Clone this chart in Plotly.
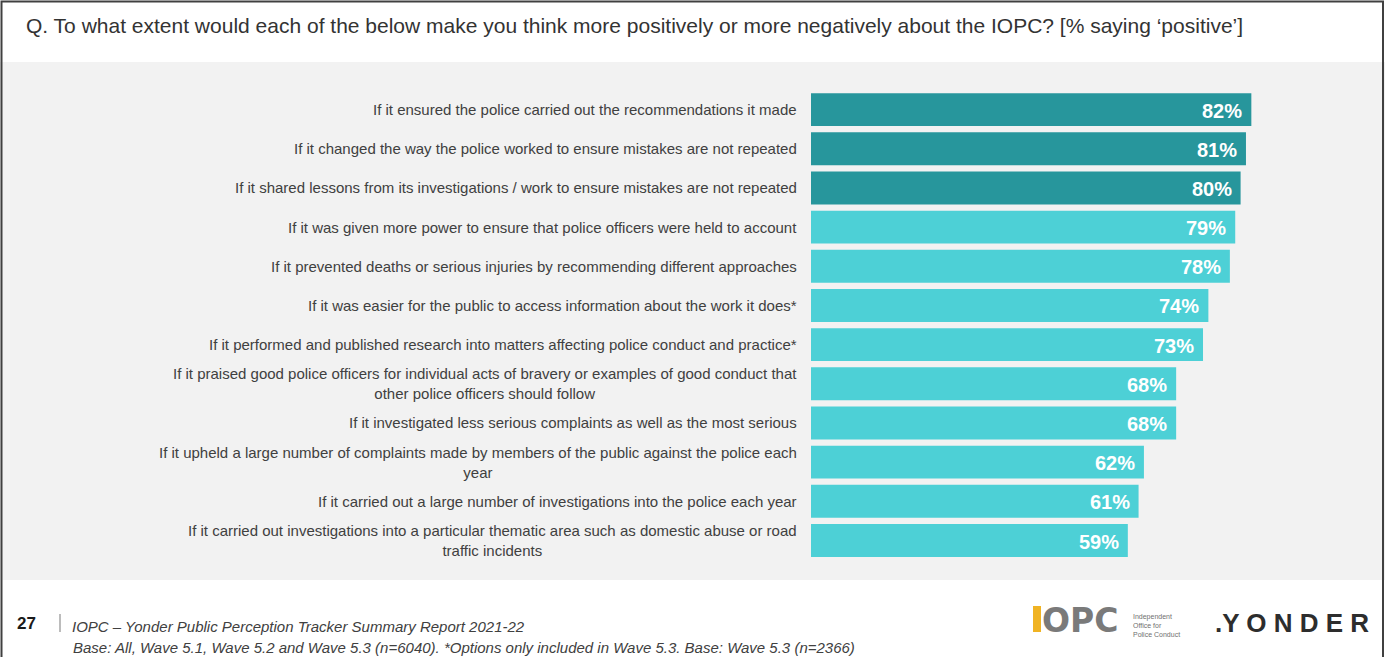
import plotly.graph_objects as go

categories = [
    "If it ensured the police carried out the recommendations it made",
    "If it changed the way the police worked to ensure mistakes are not repeated",
    "If it shared lessons from its investigations / work to ensure mistakes are not repeated",
    "If it was given more power to ensure that police officers were held to account",
    "If it prevented deaths or serious injuries by recommending different approaches",
    "If it was easier for the public to access information about the work it does*",
    "If it performed and published research into matters affecting police conduct and practice*",
    "If it praised good police officers for individual acts of bravery or examples of good conduct that<br>other police officers should follow",
    "If it investigated less serious complaints as well as the most serious",
    "If it upheld a large number of complaints made by members of the public against the police each<br>year",
    "If it carried out a large number of investigations into the police each year",
    "If it carried out investigations into a particular thematic area such as domestic abuse or road<br>traffic incidents",
]
values = [82, 81, 80, 79, 78, 74, 73, 68, 68, 62, 61, 59]
highlight = [True, True, True, False, False, False, False, False, False, False, False, False]

DARK = "#27969C"
LIGHT = "#4DD0D6"
FONT = "Liberation Sans, Arial, sans-serif"

W, H = 1385, 657
L, R, T, B = 811, 37, 90, 96
PW, PH = W - L - R, H - T - B


def px(x):
    return (x - L) / PW


def py(y):
    return (H - B - y) / PH


colors = [DARK if h else LIGHT for h in highlight]

fig = go.Figure()
fig.add_trace(go.Bar(
    x=values, y=categories, orientation="h",
    marker=dict(color=colors, line=dict(width=0)),
    hoverinfo="skip",
))

ann = []
for c, v in zip(categories, values):
    ann.append(dict(x=0, y=c, xref="x", yref="y", text=c, showarrow=False,
                    xanchor="right", yanchor="middle", align="center", xshift=-12,
                    font=dict(family=FONT, size=15, color="#404040")))
    ann.append(dict(x=v, y=c, xref="x", yref="y", text=f"{v}%", showarrow=False,
                    xanchor="right", yanchor="middle", xshift=-7, yshift=-1,
                    font=dict(family=FONT, size=20, color="white", weight="bold")))

# title
ann.append(dict(x=px(24), y=py(25), xref="paper", yref="paper", showarrow=False,
                xanchor="left", yanchor="middle",
                text="Q. To what extent would each of the below make you think more positively or more negatively about the IOPC? [% saying \u2018positive\u2019]",
                font=dict(family=FONT, size=21, color="#333333")))
# footer
ann.append(dict(x=px(15), y=py(623), xref="paper", yref="paper", showarrow=False,
                xanchor="left", yanchor="middle", text="27",
                font=dict(family=FONT, size=17, color="#1a1a1a", weight="bold")))
ann.append(dict(x=px(70), y=py(626), xref="paper", yref="paper", showarrow=False,
                xanchor="left", yanchor="middle",
                text="<i>IOPC \u2013 Yonder Public Perception Tracker Summary Report 2021-22</i>",
                font=dict(family=FONT, size=15, color="#404040")))
ann.append(dict(x=px(71), y=py(647), xref="paper", yref="paper", showarrow=False,
                xanchor="left", yanchor="middle",
                text="<i>Base: All, Wave 5.1, Wave 5.2 and Wave 5.3 (n=6040). *Options only included in Wave 5.3. Base: Wave 5.3 (n=2366)</i>",
                font=dict(family=FONT, size=15, color="#404040")))
# IOPC logo
ann.append(dict(x=px(1040), y=py(620), xref="paper", yref="paper", showarrow=False,
                xanchor="left", yanchor="middle", text="OPC",
                font=dict(family="DejaVu Sans, sans-serif", size=33, color="#7a7a7a", weight="bold")))
ann.append(dict(x=px(1131), y=py(625), xref="paper", yref="paper", showarrow=False,
                xanchor="left", yanchor="middle", align="left",
                text="Independent<br>Office for<br>Police Conduct",
                font=dict(family=FONT, size=7, color="#707070")))
ann.append(dict(x=px(1213), y=py(623), xref="paper", yref="paper", showarrow=False,
                xanchor="left", yanchor="middle", text=".Y O N D E R",
                font=dict(family=FONT, size=26, color="#2d2d2d", weight="bold")))

shapes = [
    dict(type="rect", xref="paper", yref="paper", x0=px(-5), x1=px(W + 5), y0=py(580), y1=py(62),
         fillcolor="#F2F2F2", line=dict(width=0), layer="below"),
    dict(type="rect", xref="paper", yref="paper", x0=px(1033), x1=px(1041), y0=py(632), y1=py(606),
         fillcolor="#F0B323", line=dict(width=0)),
    dict(type="line", xref="paper", yref="paper", x0=px(60), x1=px(60), y0=py(614), y1=py(632),
         line=dict(color="#a6a6a6", width=1.5)),
    dict(type="rect", xref="paper", yref="paper", x0=px(1.5), x1=px(1383), y0=py(H + 10), y1=py(1.5),
         line=dict(color="#404040", width=2), fillcolor="rgba(0,0,0,0)"),
]

fig.update_layout(
    width=W, height=H,
    margin=dict(l=L, r=R, t=T, b=B, pad=0),
    paper_bgcolor="white", plot_bgcolor="rgba(0,0,0,0)",
    bargap=0.16, showlegend=False,
    xaxis=dict(range=[0, 100], visible=False, fixedrange=True),
    yaxis=dict(type="category", autorange="reversed", showticklabels=False,
               showgrid=False, zeroline=False, showline=False, ticks="", fixedrange=True),
    annotations=ann, shapes=shapes,
)

fig.write_html("out.html", config={"displayModeBar": False})
